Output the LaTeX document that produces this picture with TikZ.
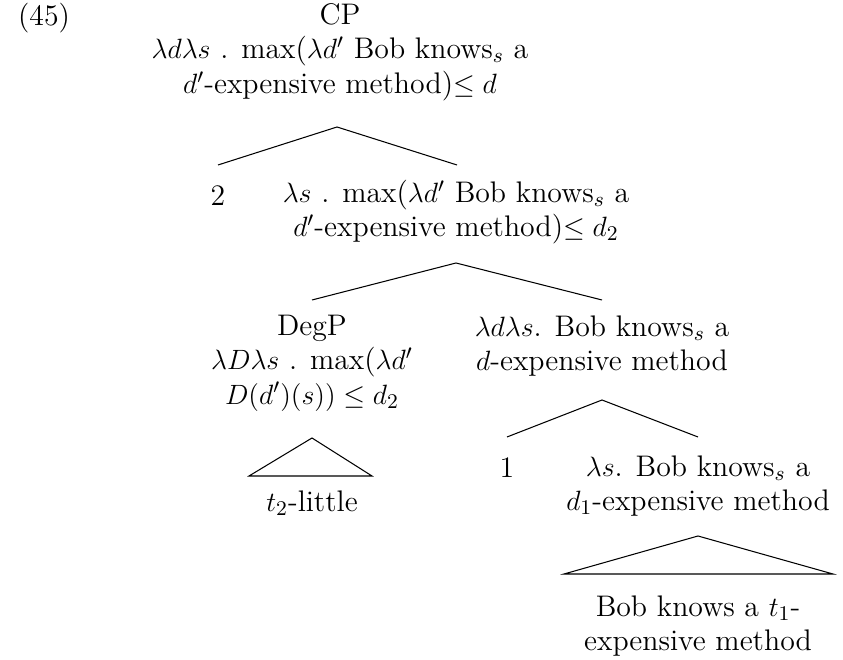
\documentclass[tikz,border=0pt]{standalone}
\begin{document}
\begin{tikzpicture}[x=0.43pt,y=-0.43pt,
  every node/.style={inner sep=0pt, align=center, font=\fontsize{12.8}{14.8}\selectfont},
  branch/.style={line width=0.45pt},
  roof/.style={line width=0.45pt}]
\useasboundingbox (0,0) rectangle (843,660);
% nodes
\node (ex) at (44,18) {(45)};
\node (cp) at (340,52) {CP\\ $\lambda d\lambda s$ . max($\lambda d'$ Bob knows$_s$ a\\ $d'$-expensive method)$\leq d$};
\node (n2) at (218,196) {2};
\node (s2) at (456,212) {$\lambda s$ . max($\lambda d'$ Bob knows$_s$ a\\ $d'$-expensive method)$\leq d_2$};
\node (degp) at (312,363) {DegP\\ $\lambda D\lambda s$ . max($\lambda d'$\\ $D(d')(s)) \leq d_2$};
\node (dl) at (602,346) {$\lambda d\lambda s$. Bob knows$_s$ a\\ $d$-expensive method};
\node (t2) at (312,503) {$t_2$-little};
\node (n1) at (507,468) {1};
\node (s1) at (698,486) {$\lambda s$. Bob knows$_s$ a\\ $d_1$-expensive method};
\node (bob) at (698,626) {Bob knows a $t_1$-\\ expensive method};
% branch points
\coordinate (cpA) at (337,127);
\coordinate (n2T) at (218,165);
\coordinate (s2T) at (457,165);
\coordinate (s2A) at (456,263);
\coordinate (degpT) at (312,300);
\coordinate (dlT) at (602,300);
\coordinate (dlA) at (602,400);
\coordinate (n1T) at (507,437);
\coordinate (s1T) at (698,437);
\coordinate (degpA) at (312,438);
\coordinate (t2L) at (249,476);
\coordinate (t2R) at (372,476);
\coordinate (s1A) at (698,536);
\coordinate (bobL) at (564,574);
\coordinate (bobR) at (833,574);
% connectors
\draw[branch] (n2T) -- (cpA) -- (s2T);
\draw[branch] (degpT) -- (s2A) -- (dlT);
\draw[branch] (n1T) -- (dlA) -- (s1T);
\draw[roof] (degpA) -- (t2L) -- (t2R) -- cycle;
\draw[roof] (s1A) -- (bobL) -- (bobR) -- cycle;
\end{tikzpicture}
\end{document}
